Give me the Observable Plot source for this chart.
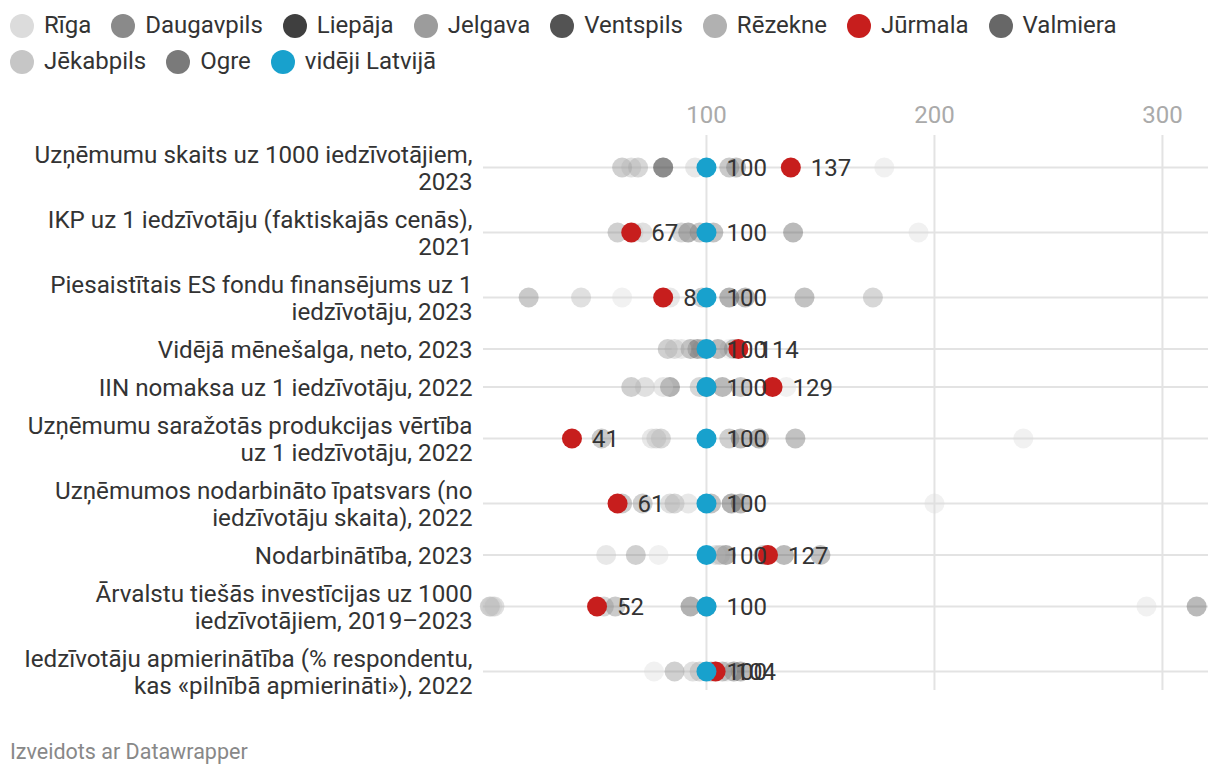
<!DOCTYPE html>
<html><head><meta charset="utf-8">
<script src="https://cdn.jsdelivr.net/npm/d3@7"></script>
<script src="https://cdn.jsdelivr.net/npm/@observablehq/plot@0.6"></script>
<style>
body{margin:0;background:#fff;font-family:Roboto,sans-serif;width:1220px;height:778px;position:relative;overflow:hidden}
#legend{position:absolute;left:10px;top:13px;width:1180px;display:flex;flex-wrap:wrap;row-gap:11px;column-gap:20px;font-size:24px;color:#333;line-height:25px}
.item{display:flex;align-items:center;gap:10px}
.sw{width:24px;height:24px;border-radius:50%;flex:none}
#chart{position:absolute;left:0;top:95px}
#footer{position:absolute;left:10px;top:739px;font-size:21.5px;color:#888}
</style></head><body>
<div id="legend"></div><div id="chart"></div><div id="footer">Izveidots ar Datawrapper</div>
<script>
const categories = [
  "Uzņēmumu skaits uz 1000 iedzīvotājiem,\n2023",
  "IKP uz 1 iedzīvotāju (faktiskajās cenās),\n2021",
  "Piesaistītais ES fondu finansējums uz 1\niedzīvotāju, 2023",
  "Vidējā mēnešalga, neto, 2023",
  "IIN nomaksa uz 1 iedzīvotāju, 2022",
  "Uzņēmumu saražotās produkcijas vērtība\nuz 1 iedzīvotāju, 2022",
  "Uzņēmumos nodarbināto īpatsvars (no\niedzīvotāju skaita), 2022",
  "Nodarbinātība, 2023",
  "Ārvalstu tiešās investīcijas uz 1000\niedzīvotājiem, 2019–2023",
  "Iedzīvotāju apmierinātība (% respondentu,\nkas «pilnībā apmierināti»), 2022"
];
const cities = ["Rīga","Daugavpils","Liepāja","Jelgava","Ventspils","Rēzekne","Jūrmala","Valmiera","Jēkabpils","Ogre","vidēji Latvijā"];
const colors = ["#dcdcdc","#8a8a8a","#3f3f3f","#9c9c9c","#535353","#b1b1b1","#c71e1d","#676767","#c6c6c6","#7a7a7a","#18a1cd"];
const riga       = [178, 193, 63, 110, 135, 239, 200, 79, 293, 77];
const daugavpils = [63, 61, 98, 83, 67, 110, 72, 69, 5, 86];
const liepaja    = [81, 92, 110, 96, 84, 123, 111, 108.5, 93, 112];
const jelgava    = [70, 89, 173, 98, 97, 80, 86, 106, 55, 97];
const ventspils  = [81, 138, 117, 105, 107, 115, 115, 134, 315, 115];
const rezekne    = [67, 72, 45, 86, 73, 78, 84, 104, 7, 94];
const jurmala    = [137, 67, 81, 114, 129, 41, 61, 127, 52, 104];
const valmiera   = [113, 103, 143, 93, 100, 139, 102, 150, 100, 102];
const jekabpils  = [95, 68, 84, 89, 81, 76, 92, 56, 6, 109];
const ogre       = [110, 97, 22, 112, 115, 54, 63, 125, 60, 107];
const average    = [100, 100, 100, 100, 100, 100, 100, 100, 100, 100];
const xTicks = [100, 200, 300];

const series = [riga, daugavpils, liepaja, jelgava, ventspils, rezekne, jurmala, valmiera, jekabpils, ogre, average];

// legend
const leg = document.getElementById("legend");
cities.forEach((c, i) => {
  const it = document.createElement("div"); it.className = "item";
  const sw = document.createElement("span"); sw.className = "sw"; sw.style.background = colors[i];
  const t = document.createElement("span"); t.textContent = c;
  it.appendChild(sw); it.appendChild(t); leg.appendChild(it);
});

// row positions from number of label lines
const rowH = categories.map(c => c.split("\n").length * 27 + 11);
let acc = 0;
const rowPos = rowH.map(h => { const c = acc + h / 2; acc += h; return c; });
const total = acc;
const rows = categories.map((label, i) => ({label, pos: rowPos[i]}));

const data = [];
cities.forEach((city, j) => series[j].forEach((v, i) => data.push({city, pos: rowPos[i], value: v})));
const greys = data.filter(d => d.city !== "Jūrmala" && d.city !== "vidēji Latvijā");
const jur = data.filter(d => d.city === "Jūrmala");
const avg = data.filter(d => d.city === "vidēji Latvijā");

const chart = Plot.plot({
  width: 1220, height: 610,
  marginLeft: 483, marginRight: 12, marginTop: 40, marginBottom: 15,
  x: {domain: [2.2, 320.2], axis: null, label: null},
  y: {domain: [0, total], range: [39.5, 39.5 + total], axis: null},
  color: {domain: cities, range: colors},
  style: {fontFamily: "Roboto, sans-serif", fontSize: "24px", color: "#333", background: "transparent"},
  marks: [
    Plot.ruleX(xTicks, {stroke: "#e3e3e3", strokeWidth: 2}),
    Plot.ruleY(rowPos, {stroke: "#e3e3e3", strokeWidth: 2}),
    Plot.axisX(xTicks, {anchor: "top", tickSize: 0, tickPadding: 13, fill: "#aaa", fontSize: 24, label: null}),
    Plot.text(rows, {y: "pos", text: "label", frameAnchor: "left", textAnchor: "end", dx: -11, lineHeight: 1.12, fill: "#333", fontSize: 24.2}),
    Plot.dot(greys, {x: "value", y: "pos", r: 10, fill: "city", fillOpacity: 0.4}),
    Plot.dot(jur, {x: "value", y: "pos", r: 10, fill: "city"}),
    Plot.text(jur, {x: "value", y: "pos", text: d => d3.format(".0f")(d.value), textAnchor: "start", dx: 20, dy: 1, fill: "#333", fontSize: 24}),
    Plot.dot(avg, {x: "value", y: "pos", r: 10, fill: "city"}),
    Plot.text(avg, {x: "value", y: "pos", text: d => d3.format(".0f")(d.value), textAnchor: "start", dx: 20, dy: 1, fill: "#333", fontSize: 24})
  ]
});
document.getElementById("chart").appendChild(chart);
</script>
</body></html>
